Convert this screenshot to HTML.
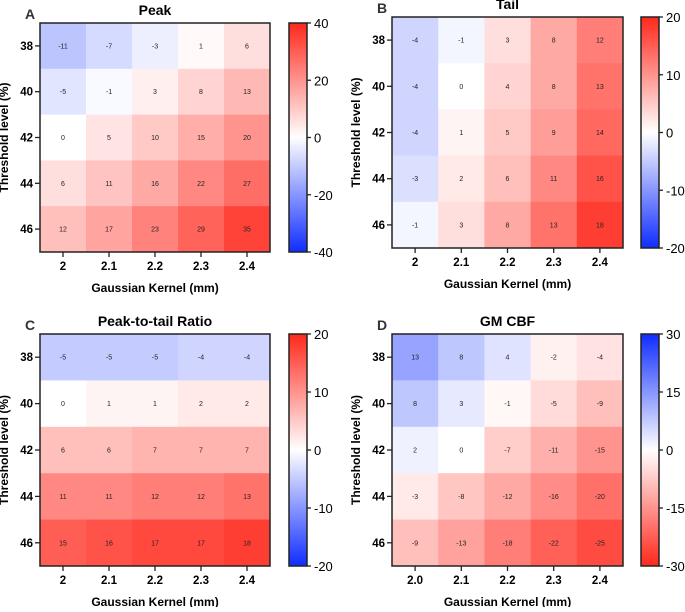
<!DOCTYPE html>
<html><head><meta charset="utf-8"><style>
body{margin:0;background:#fff;width:685px;height:607px;overflow:hidden}
svg{font-family:"Liberation Sans",Arial,sans-serif}
</style></head><body>
<svg id="fig" width="685" height="607"></svg>
<script>
const xCategories = ["2","2.1","2.2","2.3","2.4"];
const xCategoriesD = ["2.0","2.1","2.2","2.3","2.4"];
const yCategories = ["38","40","42","44","46"];
const peakValues = [[-11,-7,-3,1,6],[-5,-1,3,8,13],[0,5,10,15,20],[6,11,16,22,27],[12,17,23,29,35]];
const tailValues = [[-4,-1,3,8,12],[-4,0,4,8,13],[-4,1,5,9,14],[-3,2,6,11,16],[-1,3,8,13,18]];
const ratioValues = [[-5,-5,-5,-4,-4],[0,1,1,2,2],[6,6,7,7,7],[11,11,12,12,13],[15,16,17,17,18]];
const cbfValues = [[13,8,4,-2,-4],[8,3,-1,-5,-9],[2,0,-7,-11,-15],[-3,-8,-12,-16,-20],[-9,-13,-18,-22,-25]];
const peakTicks = [40,20,0,-20,-40];
const tailTicks = [20,10,0,-10,-20];
const ratioTicks = [20,10,0,-10,-20];
const cbfTicks = [30,15,0,-15,-30];

const NS="http://www.w3.org/2000/svg";
const svg=document.getElementById('fig');
function mk(tag,attrs,parent){const e=document.createElementNS(NS,tag);for(const k in attrs)e.setAttribute(k,attrs[k]);(parent||svg).appendChild(e);return e;}
const RED=[255,40,28],BLUE=[15,45,255];
function color(v,max,invert){let t=v/max;if(invert)t=-t;t=Math.max(-1,Math.min(1,t));const c=t>=0?RED:BLUE;const a=Math.abs(t);
return `rgb(${Math.round(255+(c[0]-255)*a)},${Math.round(255+(c[1]-255)*a)},${Math.round(255+(c[2]-255)*a)})`;}

function panel(o){
  const g=mk('g',{});
  
  
  const W=o.r-o.l,H=o.b-o.t,cw=W/5,ch=H/5;
  const xs=i=>o.l+cw*(i+0.5), ys=j=>o.t+ch*(j+0.5);
  o.values.forEach((row,j)=>row.forEach((v,i)=>{
    const rc=mk('rect',{x:o.l+cw*i,y:o.t+ch*j,width:cw+0.5,height:ch+0.5,fill:color(v,o.max,o.invert)},g);
    
    
    const tx=mk('text',{x:xs(i),y:ys(j)+2.5,'font-size':7,'text-anchor':'middle',fill:'#222'},g);tx.textContent=v;
    
    
  }));
  mk('rect',{x:o.l,y:o.t,width:W,height:H,fill:'none',stroke:'#222','stroke-width':1.5},g);
  o.xcats.forEach((c,i)=>{mk('line',{x1:xs(i),x2:xs(i),y1:o.b,y2:o.b+5,stroke:'#222','stroke-width':1.3},g);
    const t=mk('text',{x:xs(i),y:o.b+18,'font-size':11.5,'font-weight':'bold','text-anchor':'middle'},g);t.textContent=c;
    
    });
  yCategories.forEach((c,j)=>{mk('line',{x1:o.l-5,x2:o.l,y1:ys(j),y2:ys(j),stroke:'#222','stroke-width':1.3},g);
    const t=mk('text',{x:o.l-7,y:ys(j)+4,'font-size':11.5,'font-weight':'bold','text-anchor':'end'},g);t.textContent=c;
    
    });
  const xt=mk('text',{x:(o.l+o.r)/2,y:o.b+40,'font-size':12,'font-weight':'bold','text-anchor':'middle'},g);xt.textContent='Gaussian Kernel (mm)';
  
  
  const cy=(o.t+o.b)/2,yx=o.l-32;
  const yt=mk('text',{x:yx,y:cy,'font-size':12,'font-weight':'bold','text-anchor':'middle',transform:`rotate(-90 ${yx} ${cy})`},g);yt.textContent='Threshold level (%)';
  
  
  const tt=mk('text',{x:(o.l+o.r)/2,y:o.t-8,'font-size':14,'font-weight':'bold','text-anchor':'middle'},g);tt.textContent=o.title;
  
  
  const lt=mk('text',{x:o.l-10,y:o.t-4,'font-size':14,'font-weight':'bold','text-anchor':'middle',fill:'#333'},g);lt.textContent=o.letter;
  
  
  // colorbar
  const gid='grad'+o.letter;
  const defs=mk('defs',{},g);const gr=mk('linearGradient',{id:gid,x1:0,y1:0,x2:0,y2:1},defs);
  for(let k=0;k<=10;k++){const v=o.max-2*o.max*k/10;mk('stop',{offset:k/10,'stop-color':color(v,o.max,o.invert)},gr);}
  const cb=mk('rect',{x:o.cb,y:o.t,width:18,height:H,fill:`url(#${gid})`,stroke:'#222','stroke-width':1.5},g);
  
  
  const cys=v=>o.t+H*(o.ticks[0]-v)/(o.ticks[0]-o.ticks[o.ticks.length-1]);
  o.ticks.forEach(v=>{const y=cys(v);mk('line',{x1:o.cb+18,x2:o.cb+22,y1:y,y2:y,stroke:'#222','stroke-width':1.3},g);
    const t=mk('text',{x:o.cb+25,y:y+5,'font-size':13},g);t.textContent=v;
    
    });
}
panel({name:'peak',letter:'A',title:'Peak',values:peakValues,xcats:xCategories,ticks:peakTicks,max:40,l:40,r:270,t:23,b:252,cb:289});
panel({name:'tail',letter:'B',title:'Tail',values:tailValues,xcats:xCategories,ticks:tailTicks,max:20,l:392,r:623,t:17,b:248,cb:641});
panel({name:'ratio',letter:'C',title:'Peak-to-tail Ratio',values:ratioValues,xcats:xCategories,ticks:ratioTicks,max:20,l:40,r:270,t:334,b:566,cb:289});
panel({name:'gm-cbf',letter:'D',title:'GM CBF',values:cbfValues,xcats:xCategoriesD,ticks:cbfTicks,max:30,invert:true,l:392,r:623,t:334,b:566,cb:641});
</script>
</body></html>
